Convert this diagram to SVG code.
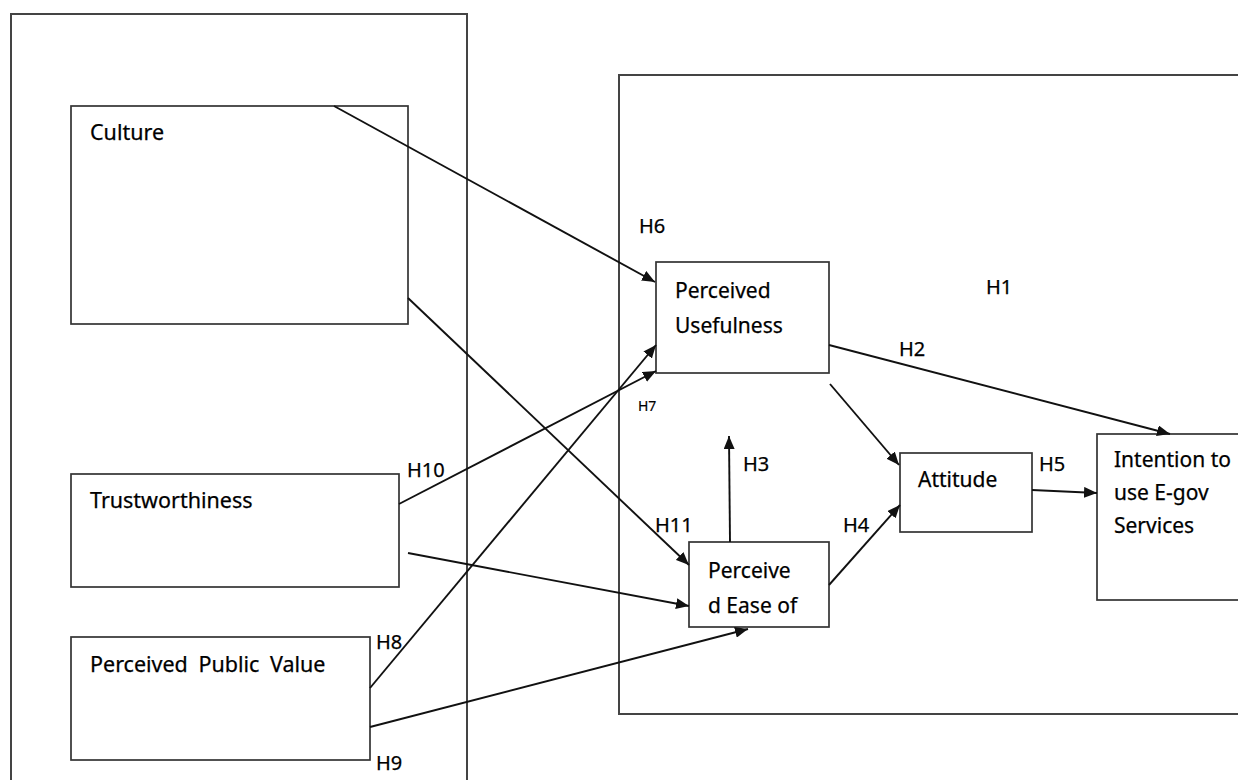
<svg xmlns="http://www.w3.org/2000/svg" width="1238" height="780" viewBox="0 0 1238 780">
<defs>
<marker id="ah" viewBox="0 0 13 11" refX="13" refY="5.5" markerWidth="13" markerHeight="11" markerUnits="userSpaceOnUse" orient="auto">
<path d="M0,0 L13,5.5 L0,11 z" fill="#111"/>
</marker>
<style>
.frame{fill:none;stroke:#444;stroke-width:2}
.box{fill:#fff;stroke:#333;stroke-width:1.7}
.t{font-family:"Noto Sans","Open Sans",sans-serif;font-size:21px;fill:#000;stroke:#000;stroke-width:0.25}
.tl{font-family:"Noto Sans","Open Sans",sans-serif;font-size:21.5px;fill:#000;stroke:#000;stroke-width:0.25}
.h{font-family:"Noto Sans","Open Sans",sans-serif;font-size:20px;fill:#000;stroke:#000;stroke-width:0.25}
.hs{font-family:"Noto Sans","Open Sans",sans-serif;font-size:14px;fill:#000;stroke:#000;stroke-width:0.2}
.c{fill:none;stroke:#111;stroke-width:1.9;marker-end:url(#ah)}
</style>
</defs>
<rect width="1238" height="780" fill="#fff"/>
<g id="frames">
<rect class="frame" x="11" y="14" width="456" height="800"/>
<rect class="frame" x="619" y="75" width="640" height="639"/>
</g>
<g id="culture"><rect class="box" x="71" y="106" width="337" height="218"/><text class="tl" x="90" y="140">Culture</text></g>
<g id="trust"><rect class="box" x="71" y="474" width="328" height="113"/><text class="tl" x="90" y="508">Trustworthiness</text></g>
<g id="ppv"><rect class="box" x="71" y="637" width="299" height="123"/><text class="tl" x="90" y="672" word-spacing="5">Perceived Public Value</text></g>
<g id="pu"><rect class="box" x="656" y="262" width="173" height="111"/><text class="t" x="675" y="298">Perceived</text><text class="t" x="675" y="333">Usefulness</text></g>
<g id="peou"><rect class="box" x="689" y="542" width="140" height="85"/><text class="t" x="708" y="578">Perceive</text><text class="t" x="708" y="613">d Ease of</text></g>
<g id="attitude"><rect class="box" x="900" y="453" width="132" height="79"/><text class="t" x="918" y="487">Attitude</text></g>
<g id="intention"><rect class="box" x="1097" y="434" width="160" height="166"/><text class="t" x="1114" y="467">Intention to</text><text class="t" x="1114" y="500">use E-gov</text><text class="t" x="1114" y="533">Services</text></g>
<g id="connectors">
<line class="c" x1="334" y1="106" x2="655" y2="282"/>
<line class="c" x1="408" y1="298" x2="689" y2="565"/>
<line class="c" x1="399" y1="504" x2="656" y2="371"/>
<line class="c" x1="408" y1="553" x2="689" y2="606"/>
<line class="c" x1="370" y1="688" x2="656" y2="345"/>
<line class="c" x1="370" y1="727" x2="748" y2="629"/>
<line class="c" x1="829" y1="345" x2="1170" y2="434"/>
<line class="c" x1="830" y1="384" x2="899" y2="465"/>
<line class="c" x1="829" y1="585" x2="900" y2="505"/>
<line class="c" x1="1032" y1="490" x2="1097" y2="493"/>
<line class="c" x1="730" y1="542" x2="729" y2="436"/>
</g>
<g id="labels">
<text class="h" x="639" y="233">H6</text>
<text class="h" x="986" y="294">H1</text>
<text class="h" x="899" y="356">H2</text>
<text class="hs" x="638" y="411">H7</text>
<text class="h" x="743" y="471">H3</text>
<text class="h" x="655" y="532">H11</text>
<text class="h" x="843" y="532">H4</text>
<text class="h" x="1039" y="471">H5</text>
<text class="h" x="407" y="477">H10</text>
<text class="h" x="376" y="649">H8</text>
<text class="h" x="376" y="770">H9</text>
</g>
</svg>
